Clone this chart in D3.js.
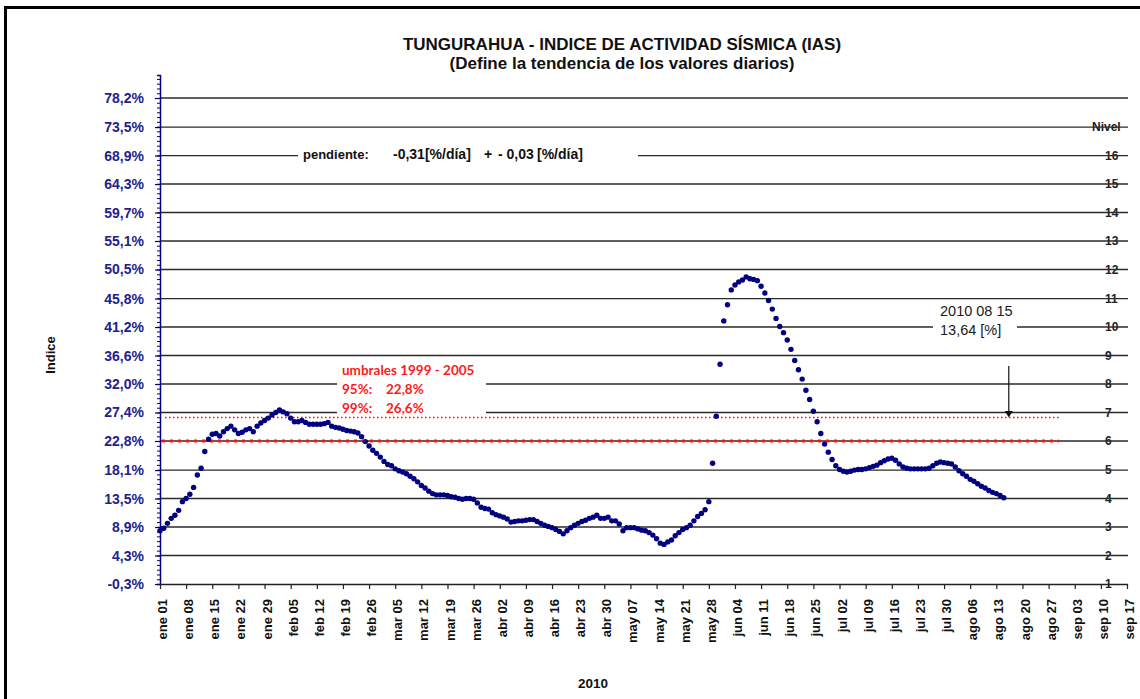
<!DOCTYPE html>
<html><head><meta charset="utf-8">
<script src="https://cdn.jsdelivr.net/npm/d3@7"></script>
<style>
body{margin:0;background:#fff;}
svg{display:block;font-family:Arial,"Liberation Sans",sans-serif;}
</style>
</head><body><svg id="c" width="1140" height="699"></svg>
<script>
// ---------------- DATA ----------------
const titleLines = ["TUNGURAHUA - INDICE DE ACTIVIDAD SÍSMICA (IAS)", "(Define la tendencia de los valores diarios)"];
const startDate = "2010-01-01";
const endDate = "2010-09-17";
// daily IAS index [%], 2010-01-01 .. 2010-08-15
const iasValues = [
  8.3, 8.7, 9.5, 10.3, 10.8, 11.6, 13.0, 13.5, 14.2, 15.3,
  17.3, 18.4, 21.1, 23.1, 23.9, 24.0, 23.6, 24.3, 24.8, 25.2,
  24.6, 24.0, 24.2, 24.6, 24.8, 24.3, 25.2, 25.7, 26.1, 26.5,
  27.0, 27.4, 27.8, 27.5, 27.2, 26.5, 25.9, 25.9, 26.1, 25.8,
  25.5, 25.5, 25.5, 25.5, 25.6, 25.8, 25.2, 25.0, 24.9, 24.7,
  24.5, 24.4, 24.3, 24.1, 23.5, 22.7, 22.0, 21.3, 20.8, 20.2,
  19.5, 19.0, 18.8, 18.3, 18.0, 17.8, 17.5, 17.1, 16.7, 16.2,
  15.6, 15.2, 14.7, 14.3, 14.1, 14.1, 14.1, 14.0, 13.8, 13.7,
  13.5, 13.4, 13.5, 13.5, 13.4, 12.8, 12.1, 11.9, 11.8, 11.2,
  10.9, 10.7, 10.5, 10.2, 9.7, 9.8, 9.9, 9.9, 10.0, 10.1,
  10.1, 9.8, 9.5, 9.2, 9.0, 8.8, 8.5, 8.2, 7.8, 8.3,
  8.8, 9.2, 9.5, 9.8, 10.0, 10.3, 10.5, 10.8, 10.3, 10.3,
  10.5, 9.9, 9.9, 9.4, 8.3, 8.8, 8.8, 8.8, 8.6, 8.4,
  8.3, 8.0, 7.6, 7.0, 6.3, 6.1, 6.5, 6.8, 7.5, 8.0,
  8.5, 8.8, 9.2, 9.9, 10.6, 11.1, 11.7, 13.0, 19.2, 26.8,
  35.2, 42.2, 44.8, 47.2, 48.0, 48.5, 48.8, 49.3, 49.0, 48.9,
  48.7, 47.8, 46.7, 45.5, 44.1, 42.6, 41.3, 40.3, 39.1, 37.6,
  35.8, 34.3, 32.8, 31.0, 29.5, 27.6, 25.9, 24.0, 22.3, 21.0,
  19.8, 18.8, 18.2, 17.9, 17.8, 17.9, 18.1, 18.2, 18.2, 18.3,
  18.5, 18.7, 18.9, 19.3, 19.6, 19.9, 20.0, 19.7, 19.1, 18.6,
  18.4, 18.3, 18.3, 18.3, 18.3, 18.3, 18.4, 18.8, 19.2, 19.4,
  19.3, 19.2, 19.1, 18.6, 18.0, 17.5, 17.1, 16.6, 16.3, 15.9,
  15.5, 15.2, 14.8, 14.5, 14.3, 14.0, 13.64
];
const yTickValues = [-0.3, 4.3, 8.9, 13.5, 18.1, 22.8, 27.4, 32.0, 36.6, 41.2, 45.8, 50.5, 55.1, 59.7, 64.3, 68.9, 73.5, 78.2];
const yTickLabels = ["-0,3%","4,3%","8,9%","13,5%","18,1%","22,8%","27,4%","32,0%","36,6%","41,2%","45,8%","50,5%","55,1%","59,7%","64,3%","68,9%","73,5%","78,2%"];
const nivelLabels = ["1","2","3","4","5","6","7","8","9","10","11","12","13","14","15","16","Nivel"];
const xTickLabels = ["ene 01","ene 08","ene 15","ene 22","ene 29","feb 05","feb 12","feb 19","feb 26",
  "mar 05","mar 12","mar 19","mar 26","abr 02","abr 09","abr 16","abr 23","abr 30","may 07","may 14",
  "may 21","may 28","jun 04","jun 11","jun 18","jun 25","jul 02","jul 09","jul 16","jul 23","jul 30",
  "ago 06","ago 13","ago 20","ago 27","sep 03","sep 10","sep 17"];
const thresholdNames = ["95%", "99%"];
const thresholdValues = [22.8, 26.6];
const thresholdTitle = "umbrales 1999 - 2005";
const thresholdTexts = ["95%:   22,8%", "99%:   26,6%"];
const slopeParts = ["pendiente:", "-0,31[%/día]", "+", "- 0,03", "[%/día]"];
const lastLabel = ["2010 08 15", "13,64 [%]"];
const yTitle = "Indice";
const xTitle = "2010";

// ---------------- CHART ----------------
const svg = d3.select("#c");
const L = 160, R = 1128, B = 584, T98 = 98;
const parse = d3.utcParse("%Y-%m-%d");
const t0 = parse(startDate), t1 = parse(endDate);
const x = d3.scaleUtc().domain([t0, t1]).range([L, 1127]);
const y = d3.scaleLinear().domain([-0.3, 78.2]).range([B, T98]);
const navy = "#000080";

// frame
svg.append("rect").attr("x", 5.5).attr("y", 7.5).attr("width", 1140).attr("height", 700)
  .attr("fill", "none").attr("stroke", "#000").attr("stroke-width", 3);

// titles
svg.append("text").attr("x", 622).attr("y", 50).attr("text-anchor", "middle")
  .attr("font-size", 17).attr("font-weight", "bold").attr("fill", "#111").text(titleLines[0]);
svg.append("text").attr("x", 622).attr("y", 69).attr("text-anchor", "middle")
  .attr("font-size", 17).attr("font-weight", "bold").attr("fill", "#111").text(titleLines[1]);

// right "Nivel" labels (under the gridlines)
const nivelG = svg.append("g");
nivelLabels.forEach((lab, i) => {
  nivelG.append("text")
    .attr("x", lab === "Nivel" ? 1092 : 1105)
    .attr("y", y(yTickValues[i])).attr("dy", "0.35em")
    .attr("font-size", 12).attr("font-weight", "bold").attr("fill", "#222").text(lab);
});

// gridlines
svg.append("g").selectAll("line").data(yTickValues.slice(1)).join("line")
  .attr("x1", L).attr("x2", R).attr("y1", d => y(d)).attr("y2", d => y(d))
  .attr("stroke", "#2a2a2a").attr("stroke-width", 1.4);

// threshold lines
svg.append("line").attr("x1", 162).attr("x2", 1059)
  .attr("y1", y(thresholdValues[0])).attr("y2", y(thresholdValues[0]))
  .attr("stroke", "#ff1010").attr("stroke-width", 3).attr("stroke-dasharray", "3 5");
svg.append("line").attr("x1", 165).attr("x2", 1060)
  .attr("y1", y(thresholdValues[1])).attr("y2", y(thresholdValues[1]))
  .attr("stroke", "#ff1010").attr("stroke-width", 1.6).attr("stroke-dasharray", "1.6 2.4");

// annotation boxes (white backgrounds that break the gridlines)
svg.append("rect").attr("x", 298).attr("y", 144).attr("width", 340).attr("height", 20).attr("fill", "#fff");
svg.append("rect").attr("x", 337).attr("y", 360).attr("width", 149).attr("height", 54).attr("fill", "#fff");
svg.append("rect").attr("x", 933).attr("y", 300).attr("width", 84).attr("height", 40).attr("fill", "#fff");

// slope text
const sp = svg.append("g").attr("fill", "#111").attr("font-weight", "bold");
const spX = [303, 393, 484, 498, 537];
slopeParts.forEach((s, i) => {
  sp.append("text").attr("x", spX[i]).attr("y", 159)
    .attr("font-size", i === 0 ? 13 : 14).text(s);
});

// thresholds text
const th = svg.append("g").attr("font-family", "Lato, 'Open Sans', sans-serif")
  .attr("font-size", 13.5).attr("font-weight", "bold").attr("fill", "#ff1a1a");
th.append("text").attr("x", 342).attr("y", 375).text(thresholdTitle);
thresholdTexts.forEach((s, i) => {
  const parts = s.split(/\s+/);
  th.append("text").attr("x", 342).attr("y", 394 + i * 19).text(parts[0]);
  th.append("text").attr("x", 386).attr("y", 394 + i * 19).text(parts[1]);
});

// last value text + arrow
svg.append("text").attr("x", 940).attr("y", 316).attr("font-size", 14.5).attr("fill", "#1a1a1a").text(lastLabel[0]);
svg.append("text").attr("x", 940).attr("y", 335).attr("font-size", 14.5).attr("fill", "#1a1a1a").text(lastLabel[1]);
const lastDate = d3.utcDay.offset(t0, iasValues.length - 1);
const ax = x(lastDate) + 5;
svg.append("line").attr("x1", ax).attr("x2", ax).attr("y1", 366).attr("y2", 412)
  .attr("stroke", "#111").attr("stroke-width", 1.2);
svg.append("path").attr("d", `M${ax - 4},${411} L${ax + 4},${411} L${ax},${y(thresholdValues[1])} Z`).attr("fill", "#111");

// data points
svg.append("g").selectAll("circle").data(iasValues).join("circle")
  .attr("cx", (d, i) => x(d3.utcDay.offset(t0, i)))
  .attr("cy", d => y(d)).attr("r", 2.7).attr("fill", navy);

// left axis
const yAxisScale = y.copy().domain([-0.3, y.invert(75)]).range([B, 75]);
const step = (78.2 + 0.3) / 17 / 6;
const minorTicks = d3.range(0, 6 * 17 + 6).map(k => -0.3 + k * step).filter(v => v <= y.invert(75) + 1e-6);
const yMinor = svg.append("g").attr("transform", `translate(${L},0)`)
  .call(d3.axisLeft(yAxisScale).tickValues(minorTicks).tickSize(3).tickFormat(""));
yMinor.selectAll("line").attr("stroke", navy).attr("stroke-width", 1);
yMinor.select(".domain").attr("stroke", navy).attr("stroke-width", 1.5);
const yAx = svg.append("g").attr("transform", `translate(${L},0)`)
  .call(d3.axisLeft(yAxisScale).tickValues(yTickValues).tickSize(5).tickPadding(11)
    .tickFormat((d, i) => yTickLabels[i]));
yAx.select(".domain").remove();
yAx.selectAll("line").attr("stroke", navy).attr("stroke-width", 1.2);
yAx.selectAll("text").attr("font-size", 14).attr("font-weight", "bold")
  .attr("fill", "#22228a").attr("font-family", "Arial, 'Liberation Sans', sans-serif");

// x axis
const xTickDates = xTickLabels.map((_, i) => d3.utcDay.offset(t0, 7 * i));
const xAx = svg.append("g").attr("transform", `translate(0,${B})`)
  .call(d3.axisBottom(x).tickValues(xTickDates).tickSize(5).tickSizeOuter(0)
    .tickFormat((d, i) => xTickLabels[i]));
xAx.select(".domain").attr("d", `M${L},0.5H${R}`).attr("stroke", "#222").attr("stroke-width", 1.4);
xAx.selectAll("line").attr("stroke", "#222").attr("stroke-width", 1.2);
xAx.selectAll("text")
  .attr("font-size", 13).attr("font-weight", "bold").attr("fill", "#111")
  .attr("font-family", "Arial, 'Liberation Sans', sans-serif")
  .attr("text-anchor", "end").attr("dy", null).attr("y", null)
  .attr("transform", "translate(2,15) rotate(-90)").attr("x", 0).attr("dy", "0.35em");

// axis titles
svg.append("text").attr("transform", "translate(50,355) rotate(-90)").attr("text-anchor", "middle")
  .attr("dy", "0.35em").attr("font-size", 13).attr("font-weight", "bold").attr("fill", "#111").text(yTitle);
svg.append("text").attr("x", 593).attr("y", 688).attr("text-anchor", "middle")
  .attr("font-size", 13.5).attr("font-weight", "bold").attr("fill", "#111").text(xTitle);
</script>
</body></html>
